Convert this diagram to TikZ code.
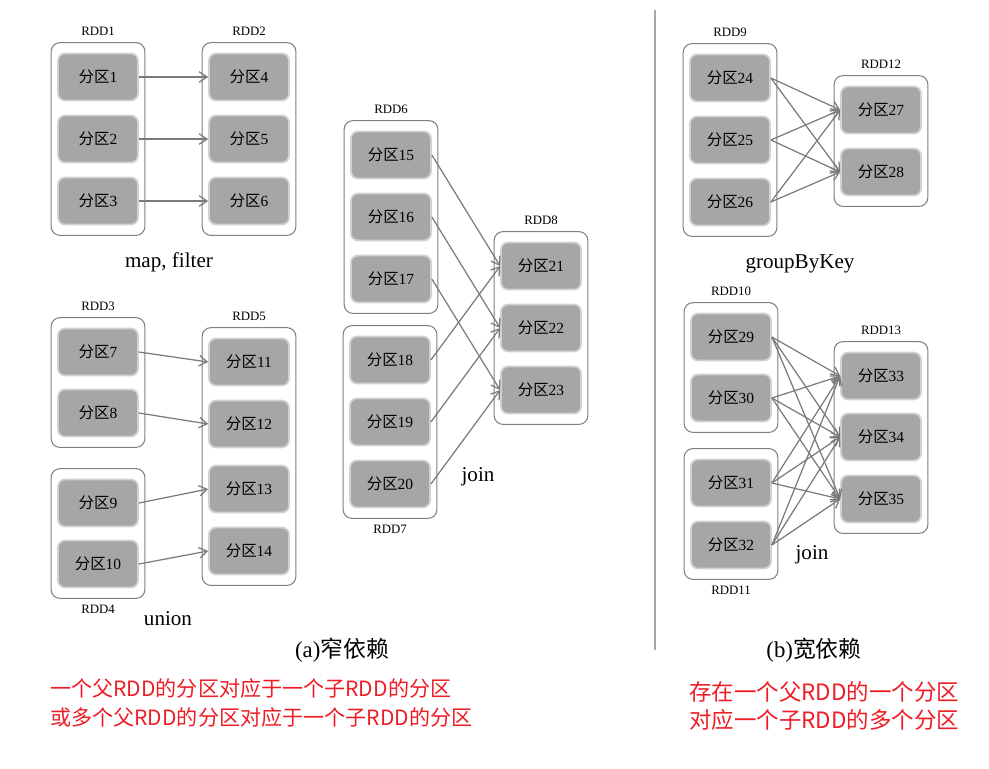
\documentclass[tikz,border=0pt]{standalone}
\usepackage{fontspec}
\setmainfont{Liberation Serif}
\newfontfamily\cjk{Noto Sans CJK SC}
\usetikzlibrary{fit,arrows.meta}
\definecolor{notered}{HTML}{EE1C25}
\newcommand\fenqu[1]{{\cjk 分区}#1}

\begin{document}
\begin{tikzpicture}[
    x=0.02cm, y=-0.02cm,
    part/.style={rectangle, rounded corners=4pt, fill=black!35, draw=black!18,
        line width=1pt, minimum width=1.6cm, minimum height=0.94cm,
        font=\fontsize{8.8}{10}\selectfont},
    rdd/.style={rectangle, rounded corners=5pt, draw=black!50, line width=0.6pt,
        inner xsep=0.12cm, inner ysep=0.2cm},
    lbl/.style={font=\fontsize{7.3}{8}\selectfont},
    dep/.style={draw=black!52, line width=0.7pt, -{Straight Barb[length=4.5pt,width=6pt]}},
    op/.style={font=\fontsize{12}{14}\selectfont},
    capt/.style={font=\fontsize{13}{15}\selectfont},
    note/.style={text=notered, anchor=west, align=left,
        font=\cjk\fontsize{12}{16}\selectfont}
]
    \useasboundingbox (0,0) rectangle (989,768);

    % (a) map, filter
    \node[part] (p1) at (98,77) {\fenqu{1}};
    \node[part] (p2) at (98,139) {\fenqu{2}};
    \node[part] (p3) at (98,201) {\fenqu{3}};
    \node[part] (p4) at (249,77) {\fenqu{4}};
    \node[part] (p5) at (249,139) {\fenqu{5}};
    \node[part] (p6) at (249,201) {\fenqu{6}};
    \node[rdd, fit=(p1)(p3), label={[lbl]above:RDD1}] (rdd1) {};
    \node[rdd, fit=(p4)(p6), label={[lbl]above:RDD2}] (rdd2) {};
    \draw[dep] (p1.east) -- (p4.west);
    \draw[dep] (p2.east) -- (p5.west);
    \draw[dep] (p3.east) -- (p6.west);
    \node[op] (opmap) at (169,262) {map, filter};

    % (a) union
    \node[part] (p7) at (98,352) {\fenqu{7}};
    \node[part] (p8) at (98,413) {\fenqu{8}};
    \node[part] (p9) at (98,503) {\fenqu{9}};
    \node[part] (p10) at (98,564) {\fenqu{10}};
    \node[part] (p11) at (249,362) {\fenqu{11}};
    \node[part] (p12) at (249,424) {\fenqu{12}};
    \node[part] (p13) at (249,489) {\fenqu{13}};
    \node[part] (p14) at (249,551) {\fenqu{14}};
    \node[rdd, fit=(p7)(p8), label={[lbl]above:RDD3}] (rdd3) {};
    \node[rdd, fit=(p9)(p10), label={[lbl]below:RDD4}] (rdd4) {};
    \node[rdd, fit=(p11)(p14), label={[lbl]above:RDD5}] (rdd5) {};
    \draw[dep] (p7.east) -- (p11.west);
    \draw[dep] (p8.east) -- (p12.west);
    \draw[dep] (p9.east) -- (p13.west);
    \draw[dep] (p10.east) -- (p14.west);
    \node[op] (opunion) at (168,619) {union};

    % (a) join
    \node[part] (p15) at (391,155) {\fenqu{15}};
    \node[part] (p16) at (391,217) {\fenqu{16}};
    \node[part] (p17) at (391,279) {\fenqu{17}};
    \node[part] (p18) at (390,360) {\fenqu{18}};
    \node[part] (p19) at (390,422) {\fenqu{19}};
    \node[part] (p20) at (390,484) {\fenqu{20}};
    \node[part] (p21) at (541,266) {\fenqu{21}};
    \node[part] (p22) at (541,328) {\fenqu{22}};
    \node[part] (p23) at (541,390) {\fenqu{23}};
    \node[rdd, fit=(p15)(p17), label={[lbl]above:RDD6}] (rdd6) {};
    \node[rdd, fit=(p18)(p20), label={[lbl]below:RDD7}] (rdd7) {};
    \node[rdd, fit=(p21)(p23), label={[lbl]above:RDD8}] (rdd8) {};
    \draw[dep] (p15.east) -- (p21.west);
    \draw[dep] (p16.east) -- (p22.west);
    \draw[dep] (p17.east) -- (p23.west);
    \draw[dep] (p18.east) -- (p21.west);
    \draw[dep] (p19.east) -- (p22.west);
    \draw[dep] (p20.east) -- (p23.west);
    \node[op] (opjoina) at (478,477) {join};

    % divider
    \draw[black!35, line width=0.8pt] (655,10) -- (655,650);

    % (b) groupByKey
    \node[part] (p24) at (730,78) {\fenqu{24}};
    \node[part] (p25) at (730,140) {\fenqu{25}};
    \node[part] (p26) at (730,202) {\fenqu{26}};
    \node[part] (p27) at (881,110) {\fenqu{27}};
    \node[part] (p28) at (881,172) {\fenqu{28}};
    \node[rdd, fit=(p24)(p26), label={[lbl]above:RDD9}] (rdd9) {};
    \node[rdd, fit=(p27)(p28), label={[lbl]above:RDD12}] (rdd12) {};
    \foreach \s in {24,25,26}
        \foreach \t in {27,28}
            \draw[dep] (p\s.east) -- (p\t.west);
    \node[op] (opgroup) at (800,264) {groupByKey};

    % (b) join
    \node[part] (p29) at (731,337) {\fenqu{29}};
    \node[part] (p30) at (731,398) {\fenqu{30}};
    \node[part] (p31) at (731,483) {\fenqu{31}};
    \node[part] (p32) at (731,545) {\fenqu{32}};
    \node[part] (p33) at (881,376) {\fenqu{33}};
    \node[part] (p34) at (881,437) {\fenqu{34}};
    \node[part] (p35) at (881,499) {\fenqu{35}};
    \node[rdd, fit=(p29)(p30), label={[lbl]above:RDD10}] (rdd10) {};
    \node[rdd, fit=(p31)(p32), label={[lbl]below:RDD11}] (rdd11) {};
    \node[rdd, fit=(p33)(p35), label={[lbl]above:RDD13}] (rdd13) {};
    \foreach \s in {29,...,32}
        \foreach \t in {33,34,35}
            \draw[dep] (p\s.east) -- (p\t.west);
    \node[op] (opjoinb) at (812,555) {join};

    % Captions
    \node[capt] (capa) at (342,650) {(a){\cjk 窄依赖}};
    \node[capt] (capb) at (814,650) {(b){\cjk 宽依赖}};
    \node[note] (notea) at (44,703) {一个父RDD的分区对应于一个子RDD的分区\\或多个父RDD的分区对应于一个子RDD的分区};
    \node[note, font=\cjk\fontsize{12.8}{16}\selectfont] (noteb) at (683,706) {存在一个父RDD的一个分区\\对应一个子RDD的多个分区};

\end{tikzpicture}
\end{document}
